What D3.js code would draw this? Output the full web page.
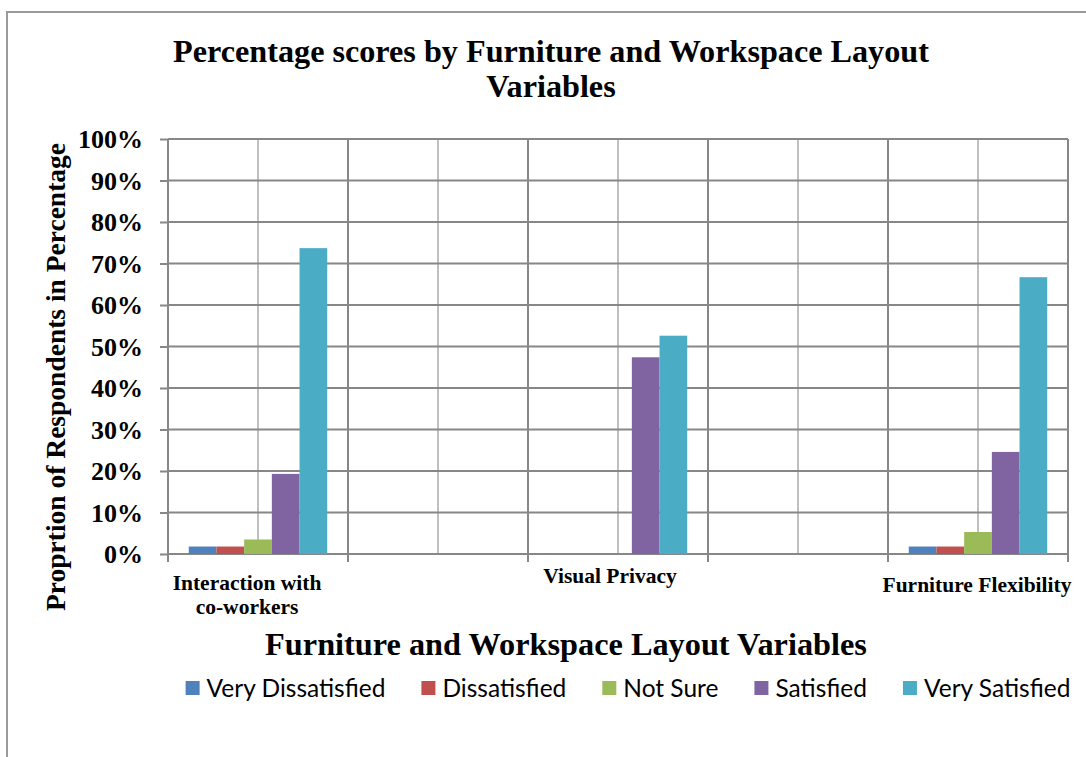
<!DOCTYPE html>
<html>
<head>
<meta charset="utf-8">
<script src="https://cdn.jsdelivr.net/npm/d3@7"></script>
<style>
  html, body { margin: 0; padding: 0; background: #fff; }
  svg { display: block; }
  .serif { font-family: "Liberation Serif", "Times New Roman", serif; font-weight: bold; fill: #000; }
  .legend text { font-family: "Lato", "Open Sans", sans-serif; fill: #000; }
</style>
</head>
<body>
<svg id="chart" width="1086" height="757"></svg>
<script>
// Category slots on the x axis (the two blank slots separate the three variables)
const categories = ["Interaction with co-workers", "", "Visual Privacy", "", "Furniture Flexibility"];
const categoryLines = [["Interaction with", "co-workers"], [], ["Visual Privacy"], [], ["Furniture Flexibility"]];

const series = ["Very Dissatisfied", "Dissatisfied", "Not Sure", "Satisfied", "Very Satisfied"];
const colors = ["#4F81BD", "#C0504D", "#9BBB59", "#8064A2", "#4BACC6"];

// Percentage of respondents per slot (null = empty slot)
const veryDissatisfied = [1.8, null, 0, null, 1.8];
const dissatisfied     = [1.8, null, 0, null, 1.8];
const notSure          = [3.5, null, 0, null, 5.3];
const satisfied        = [19.3, null, 47.4, null, 24.6];
const verySatisfied    = [73.7, null, 52.6, null, 66.7];
const seriesValues = [veryDissatisfied, dissatisfied, notSure, satisfied, verySatisfied];

const yTicks = [0, 10, 20, 30, 40, 50, 60, 70, 80, 90, 100];

const svg = d3.select("#chart");
const plot = { left: 168, right: 1068, top: 139, bottom: 554 };

// Outer chart border (only top and left edges fall inside the frame)
svg.append("rect")
  .attr("x", 7).attr("y", 12).attr("width", 1200).attr("height", 900)
  .attr("fill", "none").attr("stroke", "#9a9a9a").attr("stroke-width", 2);

const x0 = d3.scaleBand().domain(d3.range(categories.length))
  .range([plot.left, plot.right]).paddingInner(0).paddingOuter(0);
const x1 = d3.scaleBand().domain(series)
  .range([0, x0.bandwidth()]).paddingInner(0).paddingOuter(0.75);
const y = d3.scaleLinear().domain([0, 100]).range([plot.bottom, plot.top]);

// Light minor gridlines at slot centres
svg.append("g").selectAll("line").data(d3.range(categories.length)).join("line")
  .attr("x1", d => x0(d) + x0.bandwidth() / 2).attr("x2", d => x0(d) + x0.bandwidth() / 2)
  .attr("y1", plot.top).attr("y2", plot.bottom)
  .attr("stroke", "#c0c0c0").attr("stroke-width", 2);

// Horizontal gridlines + y axis labels
const yAxis = d3.axisLeft(y).tickValues(yTicks).tickFormat(d => d + "%")
  .tickSize(8).tickPadding(17);
const gy = svg.append("g").attr("transform", `translate(${plot.left},0)`).call(yAxis);
gy.select(".domain").remove();
gy.selectAll(".tick line").attr("stroke", "#878787").attr("stroke-width", 2);
gy.selectAll(".tick text").attr("class", "serif").style("font-size", "26px").attr("dy", "0.34em");
svg.append("g").selectAll("line").data(yTicks).join("line")
  .attr("x1", plot.left).attr("x2", plot.right)
  .attr("y1", d => y(d)).attr("y2", d => y(d))
  .attr("stroke", "#878787").attr("stroke-width", 2);

// Major vertical gridlines and tick marks at slot boundaries
const bounds = d3.range(categories.length + 1).map(i => plot.left + i * x0.step());
svg.append("g").selectAll("line").data(bounds).join("line")
  .attr("x1", d => d).attr("x2", d => d)
  .attr("y1", plot.top).attr("y2", plot.bottom + 8)
  .attr("stroke", "#878787").attr("stroke-width", 2);

// Bars
const bars = svg.append("g");
categories.forEach((c, ci) => {
  series.forEach((s, si) => {
    const v = seriesValues[si][ci];
    if (v === null || v === 0) return;
    bars.append("rect")
      .attr("x", x0(ci) + x1(s)).attr("width", x1.bandwidth())
      .attr("y", y(v)).attr("height", y(0) - y(v))
      .attr("fill", colors[si]);
  });
});

// Category labels (Excel-style staggered placement)
const labelBase = [590, 0, 583, 0, 592];
const labelShift = [-11, 0, -8, 0, -1];
categoryLines.forEach((lines, ci) => {
  lines.forEach((ln, li) => {
    svg.append("text").attr("class", "serif")
      .attr("x", x0(ci) + x0.bandwidth() / 2 + labelShift[ci])
      .attr("y", labelBase[ci] + li * 24)
      .attr("text-anchor", "middle").style("font-size", "21.5px").text(ln);
  });
});

// Titles
svg.append("text").attr("class", "serif").attr("x", 551).attr("y", 62)
  .attr("text-anchor", "middle").style("font-size", "32.2px")
  .text("Percentage scores by Furniture and Workspace Layout");
svg.append("text").attr("class", "serif").attr("x", 551).attr("y", 97)
  .attr("text-anchor", "middle").style("font-size", "32.2px").text("Variables");

svg.append("text").attr("class", "serif").attr("x", 566).attr("y", 655)
  .attr("text-anchor", "middle").style("font-size", "32.3px")
  .text("Furniture and Workspace Layout Variables");

svg.append("text").attr("class", "serif")
  .attr("transform", "translate(65,377) rotate(-90)")
  .attr("text-anchor", "middle").style("font-size", "27.5px")
  .text("Proprtion of Respondents  in Percentage");

// Legend
const legend = svg.append("g").attr("class", "legend");
const items = legend.selectAll("g").data(series).join("g");
items.append("rect").attr("width", 14).attr("height", 14).attr("y", -7)
  .attr("fill", (d, i) => colors[i]);
items.append("text").attr("x", 21).attr("dy", "0.35em")
  .style("font-size", "24.5px").text(d => d);
let cx = 0;
const gap = 36;
items.each(function () {
  const g = d3.select(this);
  g.attr("transform", `translate(${cx},0)`);
  cx += 21 + g.select("text").node().getComputedTextLength() + gap;
});
const totalW = cx - gap;
legend.attr("transform", `translate(${628 - totalW / 2},688)`);
</script>
</body>
</html>
